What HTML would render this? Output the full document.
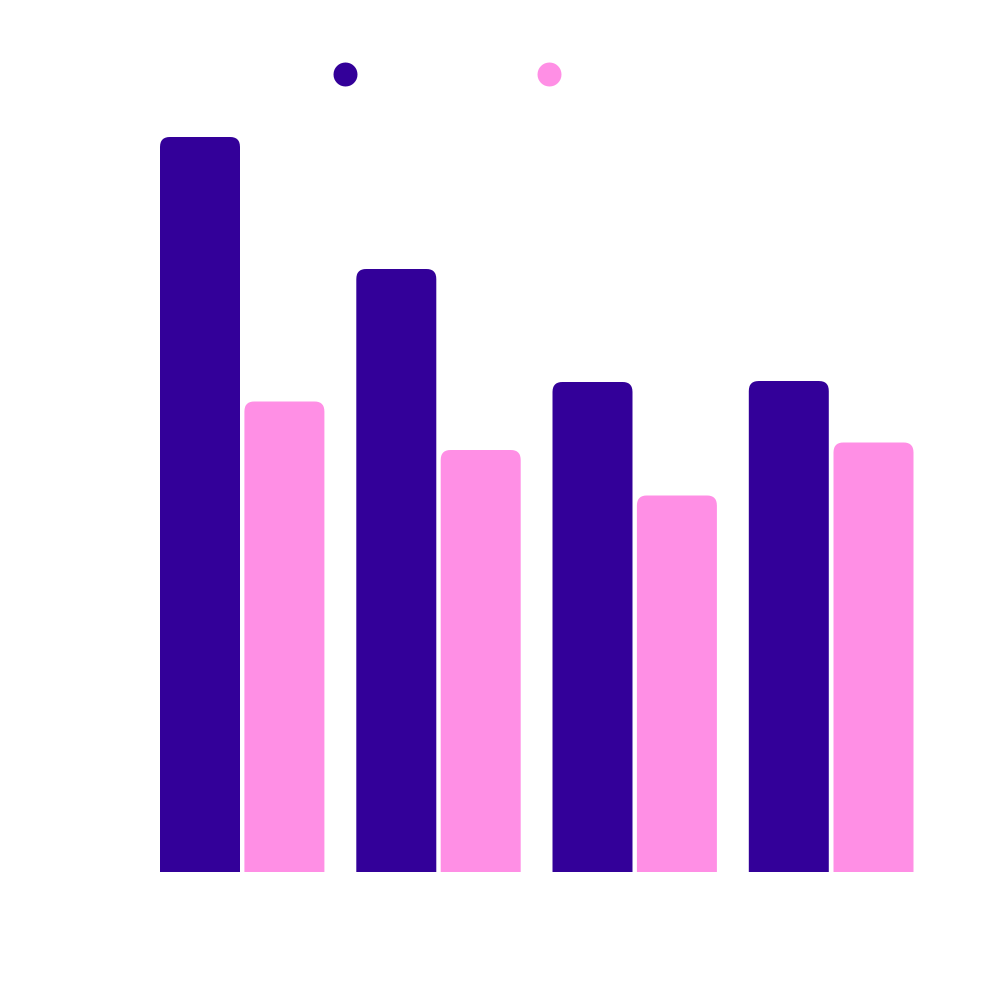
<!DOCTYPE html>
<html><head><meta charset="utf-8"><style>html,body{margin:0;padding:0;background:#fff;}svg{display:block}</style></head>
<body>
<svg width="1000" height="1000" viewBox="0 0 1000 1000" xmlns="http://www.w3.org/2000/svg">
<rect width="1000" height="1000" fill="#fff"/>
<circle cx="345.5" cy="74.5" r="12" fill="#330099"/>
<circle cx="549.5" cy="74.5" r="12" fill="#FF8FE5"/>
<g>
<path d="M160,872 V147 Q160,137 170,137 H230 Q240,137 240,147 V872 Z" fill="#330099"/>
<path d="M244.4,872 V411.5 Q244.4,401.5 254.4,401.5 H314.4 Q324.4,401.5 324.4,411.5 V872 Z" fill="#FF8FE5"/>
<path d="M356.3,872 V279 Q356.3,269 366.3,269 H426.3 Q436.3,269 436.3,279 V872 Z" fill="#330099"/>
<path d="M440.7,872 V460 Q440.7,450 450.7,450 H510.7 Q520.7,450 520.7,460 V872 Z" fill="#FF8FE5"/>
<path d="M552.5,872 V392 Q552.5,382 562.5,382 H622.5 Q632.5,382 632.5,392 V872 Z" fill="#330099"/>
<path d="M636.9,872 V505.5 Q636.9,495.5 646.9,495.5 H706.9 Q716.9,495.5 716.9,505.5 V872 Z" fill="#FF8FE5"/>
<path d="M748.8,872 V391 Q748.8,381 758.8,381 H818.8 Q828.8,381 828.8,391 V872 Z" fill="#330099"/>
<path d="M833.5,872 V452.5 Q833.5,442.5 843.5,442.5 H903.5 Q913.5,442.5 913.5,452.5 V872 Z" fill="#FF8FE5"/>
</g>
</svg>
</body></html>
